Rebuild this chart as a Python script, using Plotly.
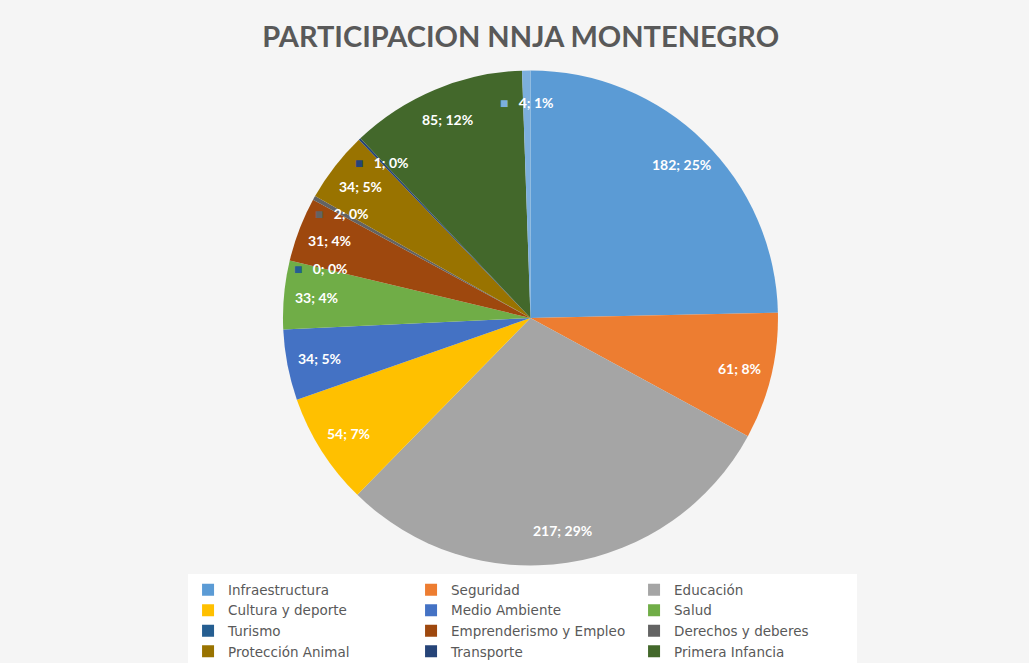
import math
import plotly.graph_objects as go

categories = ["Infraestructura", "Seguridad", "Educación", "Cultura y deporte",
              "Medio Ambiente", "Salud", "Turismo", "Emprenderismo y Empleo",
              "Derechos y deberes", "Protección Animal", "Transporte",
              "Primera Infancia", " "]
values = [182, 61, 217, 54, 34, 33, 0, 31, 2, 34, 1, 85, 4]
colors = ["#5B9BD5", "#ED7D31", "#A5A5A5", "#FFC000", "#4472C4", "#70AD47",
          "#255E91", "#9E480E", "#636363", "#997300", "#264478", "#43682B",
          "#7CAFDD"]
title = "PARTICIPACION NNJA MONTENEGRO"

# layout geometry
W, H = 1029, 663
ML, MR, MT, MB = 150, 50, 60, 0
GW, GH = W - ML - MR, H - MT - MB
dom_x = [0.1604, 0.7575]
dom_y = [0.1609, 0.9834]
radius_px = min((dom_x[1] - dom_x[0]) * GW, (dom_y[1] - dom_y[0]) * GH) / 2
cx = (dom_x[0] + dom_x[1]) / 2
cy = (dom_y[0] + dom_y[1]) / 2
label_frac = 0.87

fig = go.Figure(go.Pie(
    labels=categories,
    values=values,
    marker=dict(colors=colors, line=dict(width=0)),
    sort=False,
    direction="clockwise",
    rotation=0,
    textinfo="none",
    domain=dict(x=dom_x, y=dom_y),
    hoverinfo="label+value+percent",
))

# data labels derived from the values (placed at each slice's mid-angle)
total = sum(values)
cum = 0
annotations = []
for cat, v, col in zip(categories, values, colors):
    mid = cum + v / 2
    cum += v
    ang = 2 * math.pi * mid / total
    px_ = label_frac * radius_px * math.sin(ang)
    py_ = label_frac * radius_px * math.cos(ang)
    pct = round(100 * v / total)
    txt = f"{v}; {pct}%"
    if pct < 1 or v <= 4:
        txt = f"<span style='color:{col}'>■</span>   " + txt
    annotations.append(dict(
        x=cx + px_ / GW, y=cy + py_ / GH, xref="paper", yref="paper",
        text=txt, showarrow=False, xanchor="center", yanchor="middle",
        font=dict(family="Lato", size=14, color="white", weight="bold"),
    ))

fig.update_layout(
    width=W, height=H,
    paper_bgcolor="#f5f5f5",
    plot_bgcolor="#f5f5f5",
    margin=dict(l=ML, r=MR, t=MT, b=MB, autoexpand=False),
    title=dict(text=title, x=0.506, xanchor="center", y=0.944, yanchor="middle",
               font=dict(family="Lato", size=29, color="#595959", weight="bold")),
    annotations=annotations,
    legend=dict(orientation="h", x=0.0459, xanchor="left", y=0.147, yanchor="top",
                entrywidth=178, traceorder="normal", bgcolor="#ffffff",
                font=dict(family="DejaVu Sans", size=13.5, color="#595959"),
                itemclick=False),
)

fig.write_html("out.html", post_script="document.body.style.margin='0';",
               config={"displayModeBar": False})
